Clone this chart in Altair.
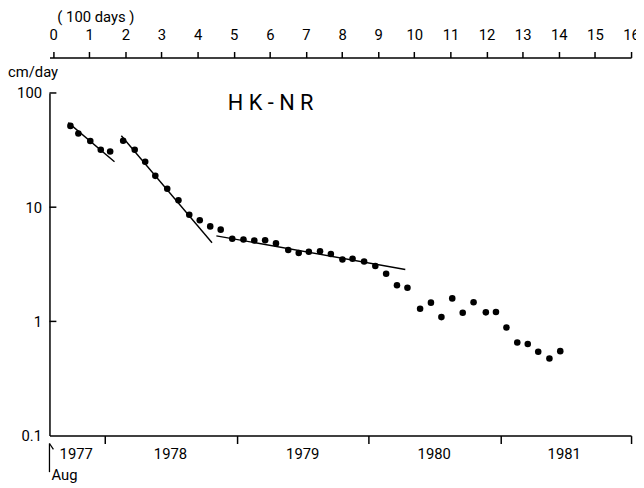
import altair as alt
import pandas as pd

# ---- data ----
days = [0.48, 0.70, 1.03, 1.32, 1.58, 1.94, 2.26, 2.55, 2.83, 3.16,
        3.47, 3.77, 4.06, 4.35, 4.64, 4.96, 5.27, 5.57, 5.87, 6.17,
        6.51, 6.80, 7.08, 7.39, 7.69, 8.01, 8.29, 8.61, 8.92, 9.22,
        9.52, 9.81, 10.16, 10.46, 10.75, 11.05, 11.34, 11.64, 11.98, 12.26,
        12.55, 12.85, 13.14, 13.43, 13.74, 14.04]
rates = [51.5, 44.2, 38.0, 31.8, 30.7, 38.2, 31.8, 25.0, 18.8, 14.5,
         11.5, 8.58, 7.69, 6.79, 6.36, 5.30, 5.21, 5.11, 5.14, 4.82,
         4.21, 3.97, 4.08, 4.11, 3.89, 3.48, 3.53, 3.34, 3.05, 2.61,
         2.07, 1.97, 1.29, 1.46, 1.09, 1.59, 1.19, 1.47, 1.20, 1.21,
         0.885, 0.653, 0.635, 0.542, 0.474, 0.549]

seg_id = ["a", "a", "b", "b", "c", "c"]
seg_x = [0.42, 1.70, 1.89, 4.40, 4.52, 9.75]
seg_y = [55.0, 25.0, 42.2, 4.88, 5.61, 2.85]

top_ticks = list(range(0, 17))
year_ticks = [1.44, 5.09, 8.74, 12.39, 16.0]
year_label_pos = [0.64, 3.25, 6.91, 10.55, 14.15]
year_labels = ["1977", "1978", "1979", "1980", "1981"]
y_ticks = [0.1, 1, 10, 100]
decades = [1, 10, 100]

FONT = "Roboto, Liberation Sans Narrow, sans-serif"

xs = alt.Scale(domain=[-0.1, 16], nice=False, zero=False)
ys = alt.Scale(type="log", domain=[0.1, 100], nice=False)

pts = pd.DataFrame({"t": days, "v": rates})
segs = pd.DataFrame({"seg": seg_id, "t": seg_x, "v": seg_y})
yrs = pd.DataFrame({"t": year_label_pos, "lab": year_labels})
dec = pd.DataFrame({"v": decades})

y_axis = alt.Axis(values=y_ticks, format="~g", tickSize=0, title=None,
                  grid=False, labelFont=FONT, labelFontSize=15,
                  labelPadding=8, domainWidth=1.5)
Y = lambda: alt.Y("v:Q", scale=ys, axis=y_axis)

points = alt.Chart(pts).mark_circle(size=44, color="black", opacity=1).encode(
    x=alt.X("t:Q", scale=xs,
            axis=alt.Axis(orient="bottom", values=year_ticks, labels=False,
                          tickSize=8, tickWidth=1.5, domainWidth=1.5,
                          title=None, grid=False)),
    y=Y(),
)

lines = alt.Chart(segs).mark_line(color="black", strokeWidth=1.4).encode(
    x=alt.X("t:Q", scale=xs,
            axis=alt.Axis(orient="top", values=top_ticks, offset=36,
                          tickSize=6, tickWidth=1.5, domainWidth=1.5,
                          labelFont=FONT, labelFontSize=15, labelPadding=9,
                          labelFlush=False, title=None, grid=False)),
    y=Y(),
    detail="seg:N",
)

ytick = alt.Chart(dec).mark_rule(color="black", strokeWidth=1.5).encode(
    x=alt.value(0), x2=alt.value(7),
    y=Y(),
)

yearlab = alt.Chart(yrs).mark_text(font=FONT, fontSize=15, baseline="middle",
                                   align="center", color="black").encode(
    x=alt.X("t:Q", scale=xs, axis=None),
    y=alt.value(366),
    text="lab:N",
)

def label(txt, x, y, size=15, align="left"):
    return alt.Chart(pd.DataFrame({"s": [txt]})).mark_text(
        font=FONT, fontSize=size, align=align, baseline="middle", color="black"
    ).encode(x=alt.value(x), y=alt.value(y), text="s:N")

title = label("H K - N R", 224, 10, size=22, align="center")
days_lab = label("( 100 days )", 47, -77, size=15, align="center")
unit_lab = label("cm/day", -42, -21, size=15)
aug_lab = label("Aug", 2, 387, size=15)

arrow = alt.Chart(pd.DataFrame({"a": [0]})).mark_rule(color="black", strokeWidth=1.3).encode(
    x=alt.value(0), x2=alt.value(0), y=alt.value(355), y2=alt.value(384))
arrow_head = alt.Chart(pd.DataFrame({"a": [0]})).mark_rule(color="black", strokeWidth=1.3).encode(
    x=alt.value(0), x2=alt.value(4), y=alt.value(355), y2=alt.value(361))

chart = alt.layer(
    points, lines, ytick, yearlab, title, days_lab, unit_lab, aug_lab, arrow, arrow_head
).resolve_axis(x="independent").properties(
    width=589, height=347,
    autosize=alt.AutoSizeParams(type="none"),
    padding={"left": 42, "top": 83, "right": 5, "bottom": 50},
).configure_view(stroke=None).configure_axis(
    domainColor="black", tickColor="black", labelColor="black"
)

chart.save("out.html", embed_options={"renderer": "svg", "actions": False})
